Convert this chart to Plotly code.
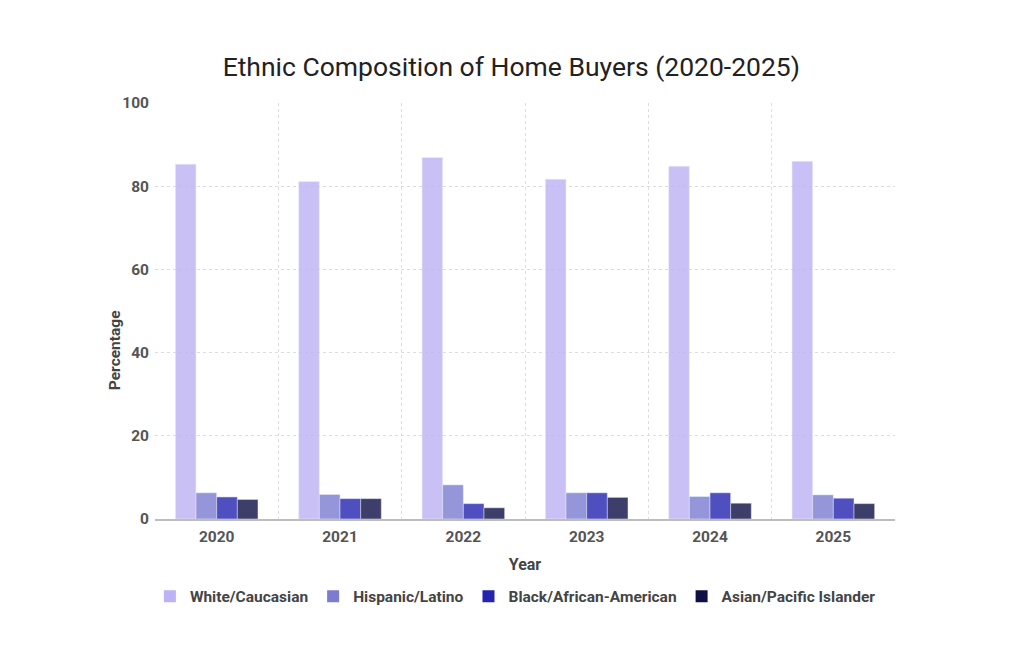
import plotly.graph_objects as go

# Share of home buyers by ethnicity
years = [2020, 2021, 2022, 2023, 2024, 2025]
white = [85.3, 81.1, 86.9, 81.7, 84.8, 86.0]
hispanic = [6.3, 5.9, 8.2, 6.3, 5.4, 5.8]
black = [5.3, 4.9, 3.7, 6.3, 6.3, 5.0]
asian = [4.7, 4.9, 2.7, 5.2, 3.8, 3.7]

names = ["White/Caucasian", "Hispanic/Latino", "Black/African-American", "Asian/Pacific Islander"]
colors = ["#bcb2f5", "#7b7bd0", "#2424b0", "#0f0f45"]
series = [white, hispanic, black, asian]

fig = go.Figure()

for name, color, vals in zip(names, colors, series):
    fig.add_trace(go.Bar(x=years, y=vals, name=name, marker_color=color,
                         opacity=0.8, showlegend=False, legendgroup=name))

# legend entries in full colour (bars themselves are drawn semi-transparent)
for name, color in zip(names, colors):
    fig.add_trace(go.Scatter(x=[None], y=[None], mode="markers", name=name,
                             legendgroup=name,
                             marker=dict(symbol="square", size=12, color=color)))

# page body has an 8px margin, so margins are shifted by that amount
fig.update_layout(
    width=1024, height=652,
    margin=dict(l=147, r=137, t=95, b=141),
    paper_bgcolor="white", plot_bgcolor="white",
    font=dict(family="Roboto", color="#555555"),
    title=dict(text="Ethnic Composition of Home Buyers (2020-2025)",
               x=0.4915, xanchor="center", y=0.91, yanchor="middle",
               font=dict(family="Roboto", size=26.5, color="#222222")),
    barmode="group", bargap=0.33, bargroupgap=0,
    legend=dict(orientation="h", x=0.487, xanchor="center", y=-0.146, yanchor="top",
                font=dict(family="Roboto", size=15.5, color="#444444", weight="bold"),
                itemwidth=30, tracegroupgap=0),
    # y title sits below the plot centre in the reference, so it is an annotation
    annotations=[dict(text="Percentage", textangle=-90, showarrow=False,
                      xref="paper", yref="paper", x=-0.054, y=0.406,
                      xanchor="center", yanchor="middle",
                      font=dict(family="Roboto", size=15.5, color="#444444", weight="bold"))],
)

fig.update_xaxes(
    range=[2019.5, 2025.5], tickvals=years, ticktext=[str(y) for y in years],
    showgrid=False, zeroline=False,
    showline=True, linecolor="#bdbdbd", linewidth=1.5,
    ticklabelstandoff=3,
    tickfont=dict(family="Roboto", size=15.5, color="#555555", weight="bold"),
    title=dict(text="Year", standoff=13,
               font=dict(family="Roboto", size=16, color="#444444", weight="bold")),
    minor=dict(tickvals=[y - 0.5 for y in years] + [years[-1] + 0.5],
               showgrid=True, gridcolor="#dddddd", griddash="dot", gridwidth=1),
)

fig.update_yaxes(
    range=[0, 100], tickvals=[0, 20, 40, 60, 80, 100],
    showgrid=True, gridcolor="#dddddd", griddash="dot", gridwidth=1,
    zeroline=False, showline=False,
    ticklabelstandoff=5,
    tickfont=dict(family="Roboto", size=15.5, color="#555555", weight="bold"),
)

fig.write_html("out.html")
